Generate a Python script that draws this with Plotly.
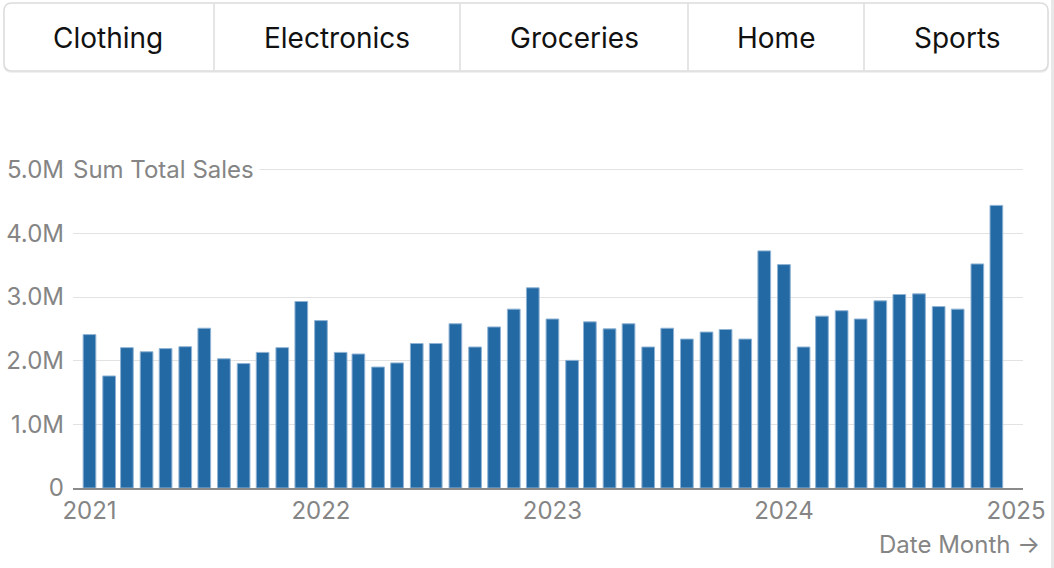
import plotly.graph_objects as go
import pandas as pd

# ---- data ----
months = pd.date_range("2021-01-01", "2024-12-01", freq="MS")
sales_m = [
    2.41, 1.76, 2.205, 2.14, 2.19, 2.22, 2.51, 2.03, 1.955, 2.13, 2.205, 2.93,
    2.63, 2.13, 2.105, 1.90, 1.965, 2.27, 2.27, 2.58, 2.215, 2.53, 2.81, 3.145,
    2.655, 2.005, 2.61, 2.50, 2.58, 2.215, 2.51, 2.34, 2.45, 2.49, 2.34, 3.725,
    3.51, 2.215, 2.70, 2.785, 2.655, 2.94, 3.04, 3.05, 2.85, 2.81, 3.52, 4.44,
]
sales = [v * 1e6 for v in sales_m]
tabs = ["Clothing", "Electronics", "Groceries", "Home", "Sports"]
y_tickvals = [0, 1e6, 2e6, 3e6, 4e6, 5e6]
y_ticktext = ["0", "1.0M", "2.0M", "3.0M", "4.0M", "5.0M"]

W, H = 1054, 568
L, R, T, B = 73, 31, 157, 80
PW, PH = W - L - R, H - T - B

def px(x):
    return (x - L) / PW

def py(y):
    return (H - B - y) / PH

FONT = "Inter, 'Open Sans', sans-serif"
GRAY = "#858585"

fig = go.Figure()
fig.add_trace(go.Bar(
    x=months, y=sales,
    width=20 * 86400000,
    marker=dict(color="#2369a4", line=dict(color="#8fb3d4", width=1)),
    hovertemplate="%{x|%b %Y}: %{y:.3s}<extra></extra>",
))

shapes = []
def rrect(x0, y0, x1, y1, r):
    return (f"M {px(x0+r)},{py(y0)} L {px(x1-r)},{py(y0)} "
            f"Q {px(x1)},{py(y0)} {px(x1)},{py(y0+r)} "
            f"L {px(x1)},{py(y1-r)} Q {px(x1)},{py(y1)} {px(x1-r)},{py(y1)} "
            f"L {px(x0+r)},{py(y1)} Q {px(x0)},{py(y1)} {px(x0)},{py(y1-r)} "
            f"L {px(x0)},{py(y0+r)} Q {px(x0)},{py(y0)} {px(x0+r)},{py(y0)} Z")

shapes.append(dict(type="path", xref="paper", yref="paper",
                   path=rrect(3, 3, 1049, 73, 9),
                   fillcolor="#f0f0f0", line=dict(width=0), layer="below"))
shapes.append(dict(type="path", xref="paper", yref="paper",
                   path=rrect(4, 3, 1048, 71, 8),
                   fillcolor="white", line=dict(color="#dcdcdc", width=1.5), layer="below"))
for dx in [214, 460, 688, 864]:
    shapes.append(dict(type="line", xref="paper", yref="paper",
                       x0=px(dx), x1=px(dx), y0=py(4), y1=py(70),
                       line=dict(color="#dcdcdc", width=1.5)))
shapes.append(dict(type="line", xref="paper", yref="paper",
                   x0=px(1052.5), x1=px(1052.5), y0=py(0), y1=py(568),
                   line=dict(color="#e8e8e8", width=3)))

annotations = []
tab_centers = [108, 337, 574, 776, 957]
for name, cx in zip(tabs, tab_centers):
    annotations.append(dict(text=name, xref="paper", yref="paper",
                            x=px(cx), y=py(38), xanchor="center", yanchor="middle",
                            showarrow=False, font=dict(family=FONT, size=28, color="#111111")))
annotations.append(dict(text="Sum Total Sales", xref="paper", yref="y",
                        x=0, y=5e6, xanchor="left", yanchor="middle", xshift=-6,
                        showarrow=False, bgcolor="white", borderpad=5,
                        font=dict(family=FONT, size=24, color=GRAY)))
annotations.append(dict(text="Date Month →", xref="paper", yref="paper",
                        x=px(1042), y=py(544), xanchor="right", yanchor="middle",
                        showarrow=False, font=dict(family=FONT, size=24, color=GRAY)))

fig.update_layout(
    width=W, height=H,
    margin=dict(l=L, r=R, t=T, b=B, pad=0, autoexpand=False),
    paper_bgcolor="white", plot_bgcolor="white",
    showlegend=False,
    shapes=shapes,
    annotations=annotations,
    font=dict(family=FONT, color=GRAY),
    xaxis=dict(
        type="date",
        range=["2020-12-06", "2025-01-12"],
        tickvals=["2021-01-01", "2022-01-01", "2023-01-01", "2024-01-01", "2025-01-01"],
        tickformat="%Y",
        showgrid=False,
        showline=True, linecolor="#8a8a8a", linewidth=2,
        ticks="", tickfont=dict(family=FONT, size=24, color=GRAY),
        ticklabelstandoff=0,
        zeroline=False, fixedrange=True, automargin=False,
    ),
    yaxis=dict(
        range=[0, 5.2e6],
        tickvals=y_tickvals, ticktext=y_ticktext,
        showgrid=True, gridcolor="#e2e2e2", gridwidth=1.3,
        zeroline=False, showline=False,
        ticks="", tickfont=dict(family=FONT, size=24, color=GRAY),
        ticklabelstandoff=8,
        fixedrange=True, automargin=False,
    ),
)

fig.write_html("out.html", config={"displayModeBar": False})
